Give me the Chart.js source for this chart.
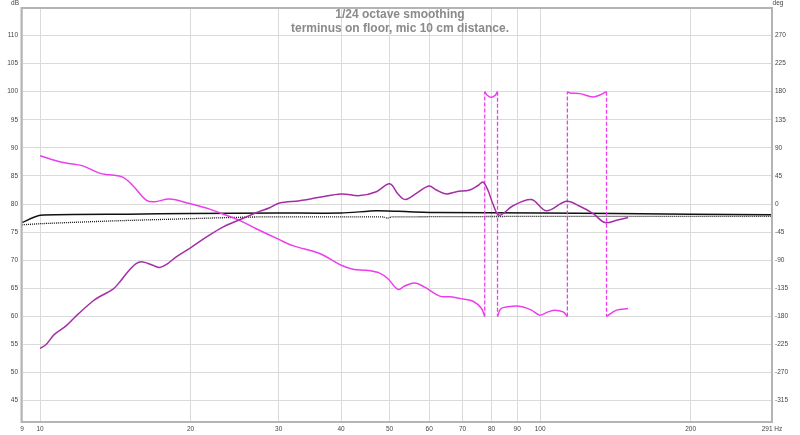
<!DOCTYPE html>
<html>
<head>
<meta charset="utf-8">
<script src="https://cdn.jsdelivr.net/npm/chart.js@4.4.1/dist/chart.umd.min.js"></script>
<style>
html,body{margin:0;padding:0;background:#fff;}
#wrap{width:800px;height:435px;}
</style>
</head>
<body>
<div id="wrap"><canvas id="c" width="800" height="435"></canvas></div>
<script>
// ---- data ----
const titleLines = ['1/24 octave smoothing', 'terminus on floor, mic 10 cm distance.'];
const xTickValues = [9.2, 10, 20, 30, 40, 50, 60, 70, 80, 90, 100, 200, 291];
const xTickLabels = ['9', '10', '20', '30', '40', '50', '60', '70', '80', '90', '100', '200', '291 Hz'];
const dbTicks = [45, 50, 55, 60, 65, 70, 75, 80, 85, 90, 95, 100, 105, 110];
const degTicks = [-315, -270, -225, -180, -135, -90, -45, 0, 45, 90, 135, 180, 225, 270];
const dbRange = [41.2, 114.9];

const splFreq = [10.0,10.28,10.68,11.27,11.81,12.74,13.14,13.97,14.30,14.97,15.56,16.05,16.81,17.33,17.87,18.72,20.06,21.49,23.20,25.06,26.64,27.48,28.7,30.13,33.04,36.22,40.04,43.56,47.04,50.02,51.97,53.8,56.56,59.95,62.03,64.96,68.0,72.33,75.15,76.9,78.7,80.5,82.8,88.3,96.1,103.0,112.9,120.1,127.7,134.8,142.2,150.0];
const splDb = [54.3,55.0,56.8,58.3,60.1,62.7,63.5,64.8,65.7,67.9,69.4,69.7,69.1,68.7,69.2,70.6,72.3,74.1,75.9,77.2,78.2,78.7,79.3,80.2,80.6,81.2,81.8,81.5,82.2,83.6,81.8,80.8,81.9,83.2,82.5,81.8,82.2,82.5,83.3,83.9,82.4,80.0,78.0,79.7,80.8,78.8,80.5,79.6,78.3,76.7,77.1,77.6];

const phaseFreq = [10.0,10.77,11.27,12.17,13.14,13.76,14.63,15.32,16.30,16.94,18.15,19.90,21.83,23.57,25.06,27.06,30.03,32.03,36.22,40.04,42.24,44.92,47.76,49.63,51.97,53.60,56.13,58.77,63.0,65.96,70.14,73.44,76.3,77.5,
  77.5,78.3,79.65,81.2,82.2,
  82.2,83.1,84.33,88.3,92.5,96.1,99.9,103.8,107.0,111.2,113.4,
  113.4,114.7,120.1,127.7,131.7,135.8,
  135.8,142.2,150.0];
const phaseDeg = [77.4,69.3,65.7,61.2,49.5,46.8,43.2,29.7,6.3,3.6,8.1,0.9,-8.1,-18,-26.1,-39.6,-56.7,-66.6,-79.2,-98.1,-104.4,-106.2,-110.7,-119.7,-136.8,-131.4,-126.5,-133.2,-147.6,-148.5,-152.1,-155.7,-167,-180,
  180,174.6,171,173.7,180,
  -180,-170,-166,-163.6,-164.8,-170,-178,-172.8,-170,-172.8,-180,
  180,178,176.9,171.7,174.6,180,
  -180,-170,-167.4];

const refFreq = [9.2, 10, 15, 20, 30, 40, 47, 52, 62, 100, 200, 291];
const refDb = [76.7, 78.0, 78.2, 78.3, 78.4, 78.4, 78.8, 78.7, 78.5, 78.4, 78.2, 78.1];
const dotFreq = [9.2, 10, 14, 20, 27, 40, 48.5, 49.5, 50.5, 100, 291];
const dotDb = [76.3, 76.5, 77.0, 77.4, 77.7, 77.7, 77.7, 77.5, 77.7, 77.8, 77.8];

// ---- build datasets ----
const toDeg = v => (v - 80) * 9;
const pts = (xs, ys) => xs.map((x, i) => ({x: x, y: ys[i]}));
const phaseSmooth = [];
const phaseWraps = [];
for (let i = 0; i < phaseFreq.length; i++) {
  phaseSmooth.push({x: phaseFreq[i], y: phaseDeg[i]});
  if (i + 1 < phaseFreq.length && phaseFreq[i + 1] === phaseFreq[i]) {
    phaseSmooth.push({x: phaseFreq[i], y: null});
    phaseWraps.push({x: phaseFreq[i], y: phaseDeg[i]}, {x: phaseFreq[i], y: phaseDeg[i + 1]}, {x: phaseFreq[i], y: null});
  }
}

const SPL_COL = '#a42ea6';
const PH_COL = '#ec3eec';

const decor = {
  id: 'decor',
  beforeDatasetsDraw(chart) {
    const ctx = chart.ctx;
    ctx.save();
    ctx.fillStyle = '#8a8a8a';
    ctx.font = 'bold 12px "Liberation Sans", Arial, sans-serif';
    ctx.textAlign = 'center';
    ctx.textBaseline = 'middle';
    ctx.fillText(titleLines[0], 400, 15);
    ctx.fillText(titleLines[1], 400, 28.5);
    ctx.restore();
  },
  afterDraw(chart) {
    const ctx = chart.ctx, a = chart.chartArea;
    ctx.save();
    ctx.strokeStyle = '#b4b4b4';
    ctx.lineWidth = 2;
    ctx.strokeRect(a.left - 0.5, a.top, a.right - a.left + 0.5, a.bottom - a.top);
    ctx.fillStyle = '#444';
    ctx.font = '6.5px "Liberation Sans", Arial, sans-serif';
    ctx.textBaseline = 'middle';
    ctx.textAlign = 'center';
    ctx.fillText('dB', 15, 3);
    ctx.fillText('deg', 778, 3);
    ctx.restore();
  }
};

const tickFont = {family: '"Liberation Sans", Arial, sans-serif', size: 6.5};

new Chart(document.getElementById('c'), {
  type: 'line',
  data: {
    datasets: [
      {label: 'SPL', data: pts(splFreq, splDb), yAxisID: 'y', borderColor: SPL_COL, borderWidth: 1.5, pointRadius: 0, tension: 0.35, fill: false},
      {label: 'Phase', data: phaseSmooth, yAxisID: 'y2', borderColor: PH_COL, borderWidth: 1.5, pointRadius: 0, tension: 0.35, spanGaps: false, fill: false},
      {label: 'Phase wrap', data: phaseWraps, yAxisID: 'y2', borderColor: PH_COL, borderWidth: 1.3, borderDash: [4, 2], pointRadius: 0, tension: 0, spanGaps: false, fill: false},
      {label: 'Ref', data: pts(refFreq, refDb), yAxisID: 'y', borderColor: '#111', borderWidth: 1.5, pointRadius: 0, tension: 0.2, fill: false},
      {label: 'Ref2', data: pts(dotFreq, dotDb), yAxisID: 'y', borderColor: '#111', borderWidth: 1.3, borderDash: [1, 1], pointRadius: 0, tension: 0.2, fill: false}
    ]
  },
  options: {
    responsive: false,
    animation: false,
    devicePixelRatio: 1,
    layout: {padding: {top: 8, left: 0, right: 0, bottom: 0}},
    plugins: {legend: {display: false}, tooltip: {enabled: false}, title: {display: false}},
    scales: {
      x: {
        type: 'logarithmic',
        min: xTickValues[0],
        max: xTickValues[xTickValues.length - 1],
        afterBuildTicks: s => { s.ticks = xTickValues.map(v => ({value: v})); },
        afterFit: s => { s.height = 13; },
        grid: {color: '#dadada', lineWidth: 1, drawTicks: false},
        border: {display: false},
        ticks: {autoSkip: false, maxRotation: 0, padding: 3, color: '#444', font: tickFont,
          callback: (v, i) => xTickLabels[i]}
      },
      y: {
        type: 'linear', position: 'left',
        min: dbRange[0], max: dbRange[1],
        afterBuildTicks: s => { s.ticks = dbTicks.map(v => ({value: v})); },
        afterFit: s => { s.width = 22; },
        grid: {color: '#dadada', lineWidth: 1, drawTicks: false},
        border: {display: false},
        ticks: {padding: 4, color: '#444', font: tickFont, callback: v => String(v)}
      },
      y2: {
        type: 'linear', position: 'right',
        min: toDeg(dbRange[0]), max: toDeg(dbRange[1]),
        afterBuildTicks: s => { s.ticks = degTicks.map(v => ({value: v})); },
        afterFit: s => { s.width = 28; },
        grid: {display: false, drawTicks: false},
        border: {display: false},
        ticks: {padding: 3, color: '#444', font: tickFont, callback: v => String(v)}
      }
    }
  },
  plugins: [decor]
});
</script>
</body>
</html>
